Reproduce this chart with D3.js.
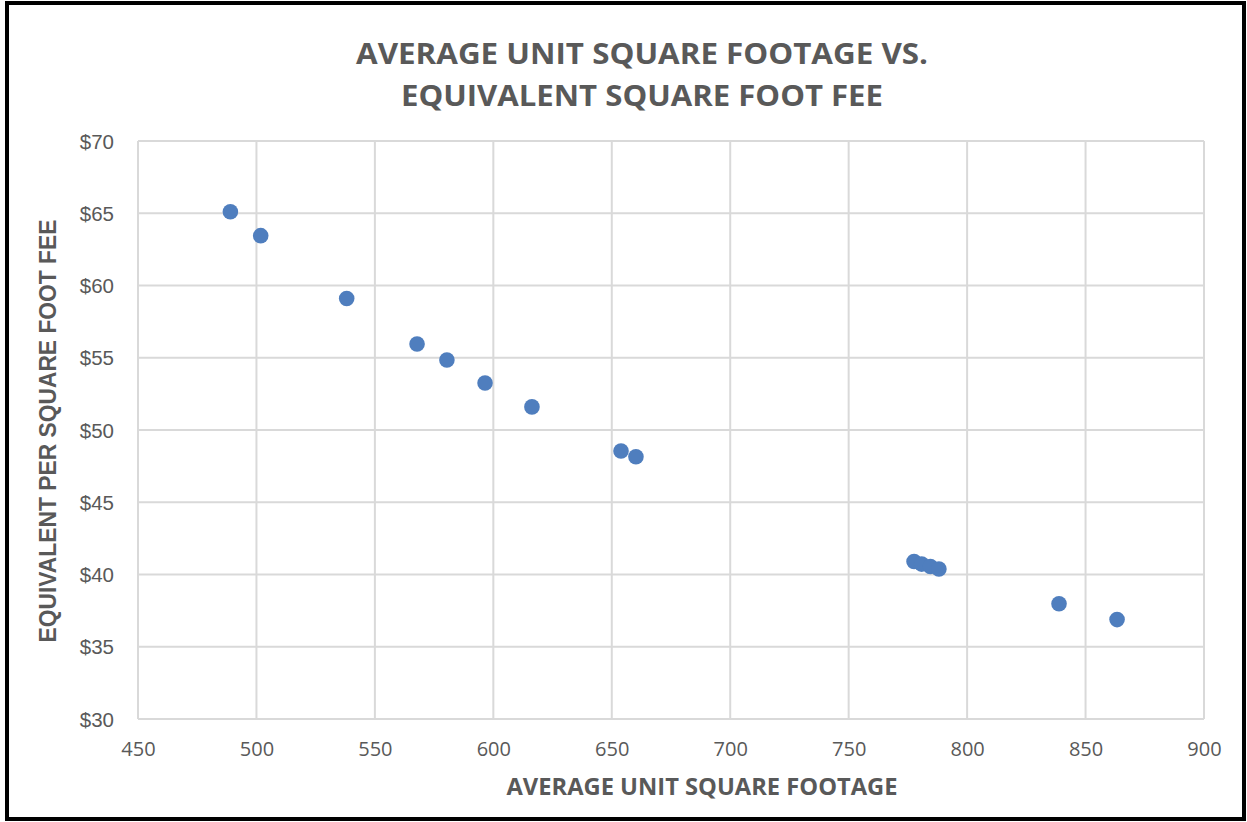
<!DOCTYPE html>
<html>
<head>
<meta charset="utf-8">
<script src="https://cdn.jsdelivr.net/npm/d3@7"></script>
<style>
  html, body { margin: 0; padding: 0; background: #fff; }
  svg { display: block; }
</style>
</head>
<body>
<svg id="chart" width="1247" height="822"></svg>
<script>
const sqft = [489, 501.8, 538.1, 567.8, 580.4, 596.5, 616.3, 653.9, 660.2, 777.6, 780.8, 784.5, 788.1, 838.8, 863.3];
const feePerSqft = [65.1, 63.45, 59.1, 55.95, 54.84, 53.25, 51.6, 48.55, 48.15, 40.9, 40.72, 40.55, 40.38, 37.98, 36.88];
const xTicks = [450, 500, 550, 600, 650, 700, 750, 800, 850, 900];
const yTicks = [30, 35, 40, 45, 50, 55, 60, 65, 70];
const titleLines = ["AVERAGE UNIT SQUARE FOOTAGE VS.", "EQUIVALENT SQUARE FOOT FEE"];
const xTitle = "AVERAGE UNIT SQUARE FOOTAGE";
const yTitle = "EQUIVALENT PER SQUARE FOOT FEE";

const svg = d3.select("#chart");
const textColor = "#595959";
const gridColor = "#d9d9d9";

const plot = {left: 138, right: 1204, top: 141, bottom: 719};
const x = d3.scaleLinear().domain([450, 900]).range([plot.left, plot.right]);
const y = d3.scaleLinear().domain([30, 70]).range([plot.bottom, plot.top]);

// outer frame
svg.append("rect").attr("x", 7).attr("y", 3).attr("width", 1237).attr("height", 816)
  .attr("fill", "#fff").attr("stroke", "#000").attr("stroke-width", 4);

// gridlines
svg.append("g").selectAll("line").data(xTicks).join("line")
  .attr("x1", d => x(d)).attr("x2", d => x(d))
  .attr("y1", plot.top).attr("y2", plot.bottom)
  .attr("stroke", gridColor).attr("stroke-width", 2);
svg.append("g").selectAll("line").data(yTicks).join("line")
  .attr("x1", plot.left).attr("x2", plot.right)
  .attr("y1", d => y(d)).attr("y2", d => y(d))
  .attr("stroke", gridColor).attr("stroke-width", 2);

// x axis labels
const xAxis = d3.axisBottom(x).tickValues(xTicks).tickSize(0).tickPadding(0).tickFormat(d3.format("d"));
const gx = svg.append("g").attr("transform", `translate(0,${plot.bottom})`).call(xAxis);
gx.select(".domain").remove();
gx.selectAll("text").attr("y", 37).attr("dy", 0)
  .attr("fill", textColor).style("font-family", "'Open Sans', sans-serif").style("font-size", "20px");

// y axis labels
const yAxis = d3.axisLeft(y).tickValues(yTicks).tickSize(0).tickPadding(0).tickFormat(d => "$" + d);
const gy = svg.append("g").attr("transform", `translate(${plot.left},0)`).call(yAxis);
gy.select(".domain").remove();
gy.selectAll("text").attr("x", -24).attr("dy", "0.35em")
  .attr("fill", textColor).style("font-family", "'Liberation Sans', Arial, sans-serif").style("font-size", "20.5px");

// points
svg.append("g").selectAll("circle").data(sqft.map((v, i) => [v, feePerSqft[i]])).join("circle")
  .attr("cx", d => x(d[0])).attr("cy", d => y(d[1])).attr("r", 7.8)
  .attr("fill", "#4F7EBE");

// title
const titleG = svg.append("g").attr("fill", textColor)
  .style("font-family", "'Open Sans', sans-serif").style("font-weight", "bold").style("font-size", "28px");
titleG.append("text").attr("x", 642).attr("y", 64).attr("text-anchor", "middle")
  .attr("textLength", 572).attr("lengthAdjust", "spacingAndGlyphs").text(titleLines[0]);
titleG.append("text").attr("x", 642).attr("y", 106).attr("text-anchor", "middle")
  .attr("textLength", 482).attr("lengthAdjust", "spacingAndGlyphs").text(titleLines[1]);

// x axis title
svg.append("text").attr("x", 702).attr("y", 795).attr("text-anchor", "middle")
  .attr("fill", textColor).style("font-family", "'Open Sans', sans-serif").style("font-weight", "bold").style("font-size", "24px")
  .attr("textLength", 391).attr("lengthAdjust", "spacingAndGlyphs").text(xTitle);

// y axis title
svg.append("text").attr("transform", "translate(56,431) rotate(-90)").attr("text-anchor", "middle")
  .attr("fill", textColor).style("font-family", "'Liberation Sans', Arial, sans-serif").style("font-weight", "bold").style("font-size", "23px")
  .attr("textLength", 423).attr("lengthAdjust", "spacingAndGlyphs").text(yTitle);
</script>
</body>
</html>
